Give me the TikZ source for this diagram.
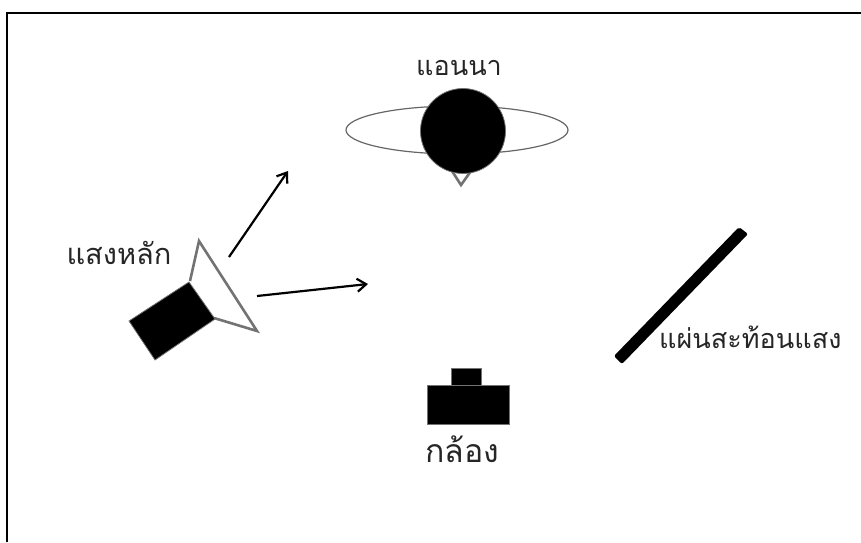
\documentclass[tikz,border=0pt]{standalone}
\usepackage{fontspec}
\newfontfamily\thaifont[Script=Thai]{Loma}
\usetikzlibrary{arrows.meta,positioning}
\begin{document}
\begin{tikzpicture}[
  x=1pt, y=-1pt,
  caption/.style={font=\thaifont\fontsize{#1}{#1}\selectfont, inner sep=0pt, text=black!85},
  solid/.style={fill=black, draw=black!55, line width=0.8pt},
  rim/.style={draw=black!55, line width=2.6pt},
  arrow/.style={-{Straight Barb[length=9pt,width=13pt]}, line width=2.2pt}
]
\useasboundingbox (0,0) rectangle (861,542);
\draw[line width=2pt] (7,542) -- (7,13) -- (861,13);

% talent
\draw[draw=black!60, line width=1.2pt] (457,130) ellipse [x radius=111, y radius=24];
\draw[rim] (452,171) -- (461,185) -- (471,171);
\node[circle, solid, minimum size=85pt, inner sep=0pt] (talent) at (463,131) {};
\node[caption=27, above=12pt of talent.north, xshift=-4pt] (talentlabel) {แอนนา};

% main light
\draw[rim, fill=white] (190,281) -- (199,241) -- (257,331) -- (214,318);
\draw[solid] (129,321) -- (189,282) -- (215,319) -- (155,360) -- cycle;
\node[caption=29] (keylabel) at (119,253) {แสงหลัก};
\coordinate (keytop) at (229,257);
\coordinate (keyside) at (257,296);
\coordinate (keytoptip) at (288,171);
\coordinate (keysidetip) at (368,284);
\draw[arrow] (keytop) -- (keytoptip);
\draw[arrow] (keyside) -- (keysidetip);

% reflector
\fill[rounded corners=2pt] (739,227) -- (748,234) -- (622,364) -- (614,356) -- cycle;
\node[caption=27, anchor=west] (boardlabel) at (659,337) {แผ่นสะท้อนแสง};

% camera
\node[solid, minimum width=30pt, minimum height=17pt, inner sep=0pt] (lens) at (466,376.5) {};
\node[solid, minimum width=82pt, minimum height=39pt, inner sep=0pt] (camera) at (468,404.5) {};
\node[caption=32] (cameralabel) at (462,449) {กล้อง};
\end{tikzpicture}
\end{document}
